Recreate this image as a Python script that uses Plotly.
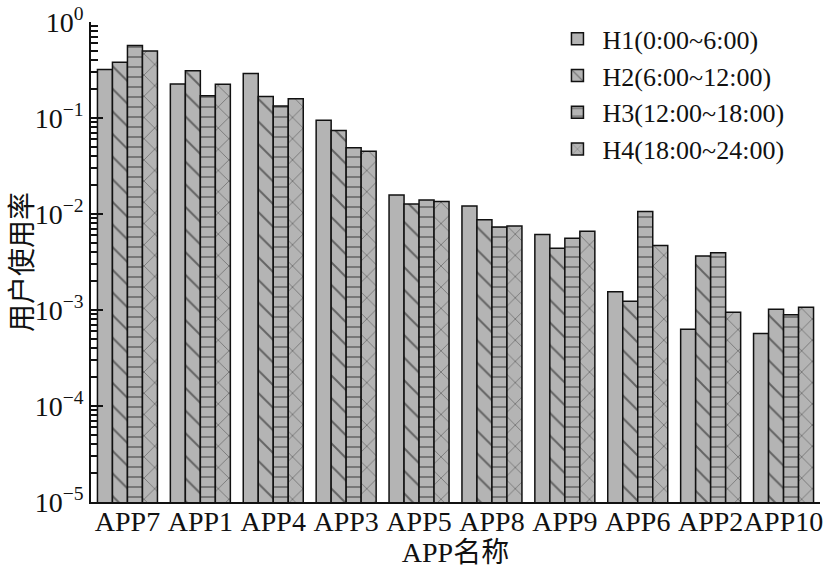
import plotly.graph_objects as go

apps = ["APP7", "APP1", "APP4", "APP3", "APP5", "APP8", "APP9", "APP6", "APP2", "APP10"]
series_names = ["H1(0:00~6:00)", "H2(6:00~12:00)", "H3(12:00~18:00)", "H4(18:00~24:00)"]
h1 = [0.32, 0.226, 0.29, 0.095, 0.0158, 0.0121, 0.0061, 0.00155, 0.00063, 0.00057]
h2 = [0.38, 0.31, 0.167, 0.074, 0.0127, 0.0087, 0.0044, 0.00123, 0.00365, 0.00102]
h3 = [0.57, 0.171, 0.133, 0.049, 0.0140, 0.0073, 0.0056, 0.0106, 0.00395, 0.00089]
h4 = [0.50, 0.225, 0.159, 0.045, 0.0135, 0.0075, 0.0066, 0.0047, 0.00095, 0.00107]
y_tickvals = [1, 1e-1, 1e-2, 1e-3, 1e-4, 1e-5]
y_ticktext = ["10<sup>0</sup>", "10<sup>−1</sup>", "10<sup>−2</sup>", "10<sup>−3</sup>",
              "10<sup>−4</sup>", "10<sup>−5</sup>"]
minor_vals = [m * 10.0 ** e for e in range(-5, 0) for m in range(2, 10)]

patterns = [
    dict(shape=""),
    dict(shape="\\", size=16, solidity=0.12, fgcolor="#111111"),
    dict(shape="-", size=10, solidity=0.15, fgcolor="#111111"),
    dict(shape="x", size=15, solidity=0.09, fgcolor="#111111"),
]

fig = go.Figure()
for name, vals, pat in zip(series_names, [h1, h2, h3, h4], patterns):
    fig.add_trace(go.Bar(
        x=apps, y=vals, name=name,
        marker=dict(color="#b4b4b4", line=dict(color="#111111", width=1.5), pattern=pat),
    ))
# invisible helper so the minor-tick axis is drawn
fig.add_trace(go.Scatter(x=[apps[0]], y=[h1[0]], yaxis="y2", mode="none",
                         showlegend=False, hoverinfo="skip"))

serif = "Liberation Serif, Times New Roman, Noto Sans CJK SC"
fig.update_layout(
    width=825, height=578,
    margin=dict(l=91, r=5, t=22, b=76, autoexpand=False),
    paper_bgcolor="white", plot_bgcolor="white",
    barmode="group", bargap=0.177, bargroupgap=0,
    font=dict(family=serif, size=28, color="#111111"),
    legend=dict(x=0.633, y=1.014, xanchor="left", yanchor="top",
                bgcolor="rgba(0,0,0,0)", font=dict(size=26),
                tracegroupgap=0, itemwidth=40),
    xaxis=dict(
        automargin=False,
        showline=True, linecolor="#111111", linewidth=1.5,
        ticks="", tickfont=dict(size=28), tickangle=0, ticklabelstandoff=-6,
        title=dict(text="APP名称", font=dict(size=28), standoff=2),
        showgrid=False, zeroline=False, layer="above traces",
    ),
    yaxis=dict(
        automargin=False,
        type="log", range=[-5, 0],
        showline=True, linecolor="#111111", linewidth=1.8,
        tickmode="array", tickvals=y_tickvals, ticktext=y_ticktext,
        ticks="inside", ticklen=12, tickwidth=2, tickcolor="#111111",
        tickfont=dict(size=28),
        title=dict(text="用户使用率", font=dict(size=28, family="Noto Sans CJK SC"), standoff=2),
        showgrid=False, zeroline=False, layer="above traces",
    ),
    yaxis2=dict(
        automargin=False,
        type="log", range=[-5, 0], overlaying="y", anchor="x", side="left",
        tickmode="array", tickvals=minor_vals, showticklabels=False,
        ticks="inside", ticklen=7, tickwidth=1.6, tickcolor="#111111",
        showline=False, showgrid=False, zeroline=False, layer="above traces",
    ),
)

fig.write_html(
    "out.html",
    config={"displayModeBar": False},
    post_script="document.body.style.margin='0';document.body.style.overflow='hidden';",
)
